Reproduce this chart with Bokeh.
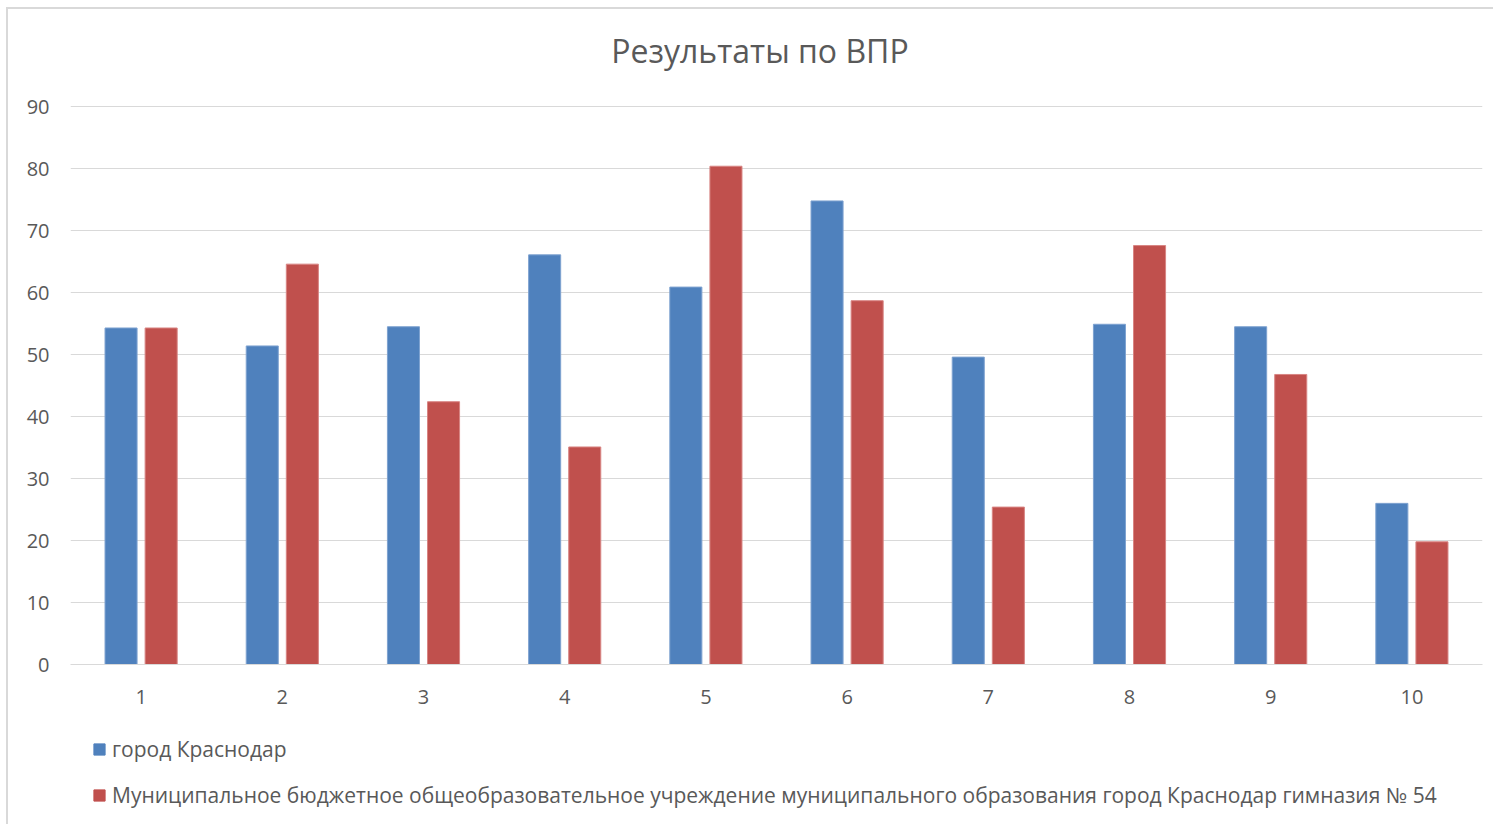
from bokeh.plotting import figure
from bokeh.layouts import column
from bokeh.models import ColumnDataSource, FactorRange, Legend, LegendItem, Range1d, FixedTicker, Label
from bokeh.transform import dodge
from bokeh.embed import file_html
from bokeh.resources import INLINE

categories = ["1", "2", "3", "4", "5", "6", "7", "8", "9", "10"]
krasnodar = [54.3, 51.4, 54.5, 66.1, 60.9, 74.8, 49.6, 54.9, 54.5, 26.0]
gymnasium = [54.3, 64.6, 42.4, 35.1, 80.4, 58.7, 25.4, 67.6, 46.8, 19.8]
series_names = [
    "город Краснодар",
    "Муниципальное бюджетное общеобразовательное учреждение муниципального образования город Краснодар гимназия № 54",
]
series_colors = ["#4F81BD", "#C0504D"]
series_edges = ["#7EA2D0", "#D88583"]
y_ticks = [0, 10, 20, 30, 40, 50, 60, 70, 80, 90]
chart_title = "Результаты по ВПР"

FONT = "Open Sans"
GREY = "#595959"
W = 1485

# ---- title strip ----
p0 = figure(
    x_range=Range1d(0, 1), y_range=Range1d(0, 1),
    width=W, height=85,
    output_backend="svg", toolbar_location=None,
    min_border=0,
)
p0.axis.visible = False
p0.grid.visible = False
p0.outline_line_color = None
p0.add_layout(Label(
    x=0.4883, y=0.518, text=chart_title,
    text_align="center", text_baseline="middle",
    text_font=FONT, text_font_size="32px", text_color=GREY,
))

# ---- main chart ----
source = ColumnDataSource(dict(cat=categories, a=krasnodar, b=gymnasium))

p = figure(
    x_range=FactorRange(*categories, range_padding=0),
    y_range=Range1d(0, 90.2),
    width=W, height=626,
    output_backend="svg", toolbar_location=None,
    min_border_left=62, min_border_right=11, min_border_top=11, min_border_bottom=56,
)

p.vbar(x=dodge("cat", -0.142, range=p.x_range), top="a", width=0.227, source=source,
       fill_color=series_colors[0], line_color=series_edges[0], line_width=1)
p.vbar(x=dodge("cat", 0.142, range=p.x_range), top="b", width=0.227, source=source,
       fill_color=series_colors[1], line_color=series_edges[1], line_width=1)

p.outline_line_color = None
p.xgrid.grid_line_color = None
p.ygrid.grid_line_color = "#d9d9d9"
p.ygrid.grid_line_width = 1

p.yaxis.ticker = FixedTicker(ticks=y_ticks)
p.yaxis.axis_line_color = None
p.yaxis.major_tick_line_color = None
p.yaxis.minor_tick_line_color = None
p.yaxis.major_label_text_font = FONT
p.yaxis.major_label_text_font_size = "20px"
p.yaxis.major_label_text_color = GREY
p.yaxis.major_label_standoff = 15

p.xaxis.axis_line_color = "#d9d9d9"
p.xaxis.axis_line_width = 1
p.xaxis.major_tick_line_color = None
p.xaxis.minor_tick_line_color = None
p.xaxis.major_label_text_font = FONT
p.xaxis.major_label_text_font_size = "20px"
p.xaxis.major_label_text_color = GREY
p.xaxis.major_label_standoff = 19

# ---- legend strip ----
p2 = figure(
    x_range=Range1d(0, 1), y_range=Range1d(0, 1),
    width=W, height=104,
    output_backend="svg", toolbar_location=None,
    min_border=0,
)
p2.axis.visible = False
p2.grid.visible = False
p2.outline_line_color = None
# legend swatches only (kept outside the visible range)
l1 = p2.vbar(x=[-5], top=[0], width=0.1, fill_color=series_colors[0], line_color=series_colors[0])
l2 = p2.vbar(x=[-5], top=[0], width=0.1, fill_color=series_colors[1], line_color=series_colors[1])

legend = Legend(
    items=[LegendItem(label=series_names[0], renderers=[l1]),
           LegendItem(label=series_names[1], renderers=[l2])],
    orientation="vertical",
    location=(22, 15),
    label_text_font=FONT,
    label_text_font_size="21px",
    label_text_color=GREY,
    label_height=28,
    glyph_width=14, glyph_height=14,
    label_standoff=6,
    spacing=18,
    padding=0,
    margin=0,
    border_line_color=None,
    background_fill_alpha=0,
)
p2.add_layout(legend, "center")

layout = column(
    p0, p, p2, spacing=0,
    styles={"margin-left": "6px", "margin-top": "7px",
            "border-left": "2px solid #d9d9d9", "border-top": "2px solid #d9d9d9"},
)

open("out.html", "w").write(file_html(layout, INLINE))
